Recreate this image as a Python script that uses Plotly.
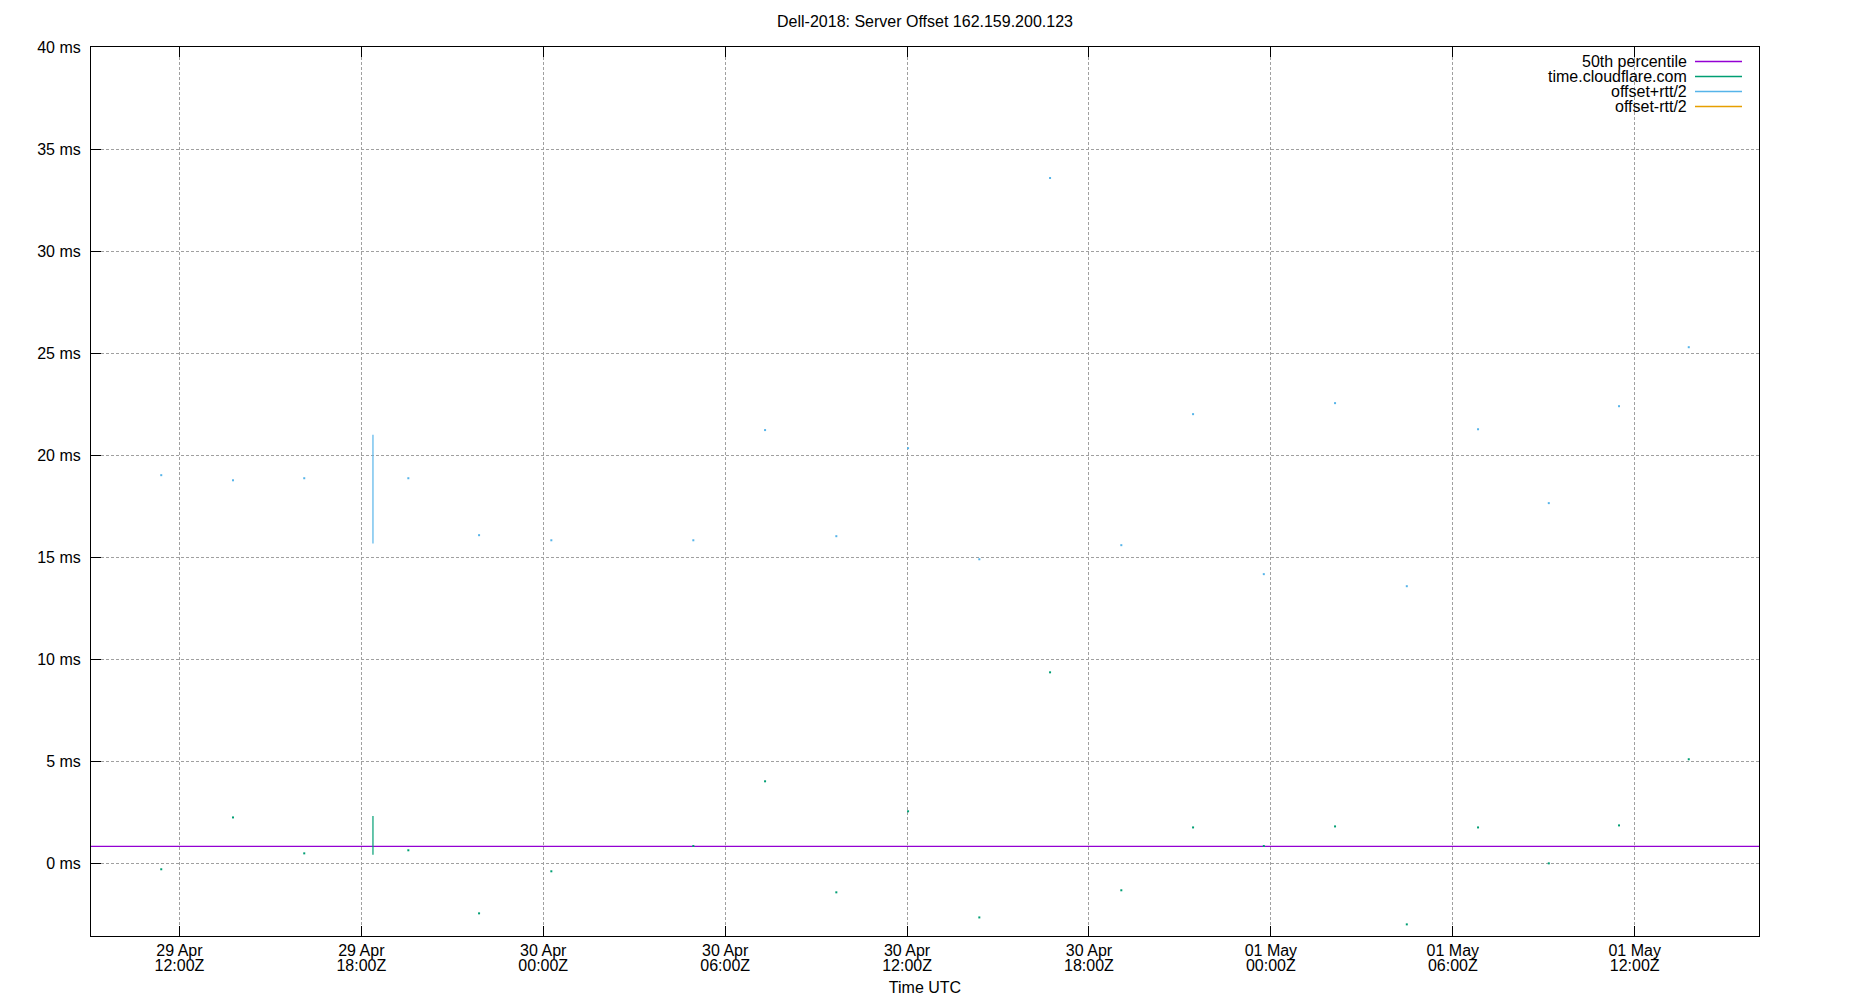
import plotly.graph_objects as go

# ---------------- data ----------------
title_text = "Dell-2018: Server Offset 162.159.200.123"
series_names = ["50th percentile", "time.cloudflare.com", "offset+rtt/2", "offset-rtt/2"]
series_colors = ["#9400d3", "#009e73", "#56b4e9", "#e69f00"]

window_start = "2024-04-29 09:05"
window_end = "2024-05-01 16:06"

p50_offset_ms = 0.83

# time.cloudflare.com offset samples
offset_times = [
    "2024-04-29 11:24", "2024-04-29 13:46", "2024-04-29 16:07", "2024-04-29 19:33",
    "2024-04-29 21:53", "2024-04-30 00:16", "2024-04-30 04:57", "2024-04-30 07:19",
    "2024-04-30 09:40", "2024-04-30 12:02", "2024-04-30 14:23", "2024-04-30 16:43",
    "2024-04-30 19:04", "2024-04-30 21:26", "2024-04-30 23:46", "2024-05-01 02:07",
    "2024-05-01 04:29", "2024-05-01 06:50", "2024-05-01 09:10", "2024-05-01 11:29",
    "2024-05-01 13:47",
]
offset_ms = [
    -0.29, 2.25, 0.49, 0.64,
    -2.45, -0.39, 0.85, 4.02,
    -1.42, 2.55, -2.65, 9.36,
    -1.32, 1.76, 0.85, 1.81,
    -2.99, 1.76, 0.00, 1.86,
    5.10,
]

# offset + rtt/2 samples
plus_times = [
    "2024-04-29 11:24", "2024-04-29 13:46", "2024-04-29 16:07", "2024-04-29 19:33",
    "2024-04-29 21:53", "2024-04-30 00:16", "2024-04-30 04:57", "2024-04-30 07:19",
    "2024-04-30 09:40", "2024-04-30 12:02", "2024-04-30 14:23", "2024-04-30 16:43",
    "2024-04-30 19:04", "2024-04-30 21:26", "2024-04-30 23:46", "2024-05-01 02:07",
    "2024-05-01 04:29", "2024-05-01 06:50", "2024-05-01 09:10", "2024-05-01 11:29",
    "2024-05-01 13:47",
]
plus_ms = [
    19.02, 18.77, 18.87, 18.87,
    16.08, 15.83, 15.83, 21.23,
    16.03, 20.34, 14.90, 33.58,
    15.59, 22.01, 14.17, 22.55,
    13.58, 21.27, 17.65, 22.40,
    25.29,
]

# offset - rtt/2 samples (none fall inside the plotted range)
minus_times = []
minus_ms = []

# burst of samples around 29 Apr 18:23 (drawn as a vertical streak)
burst_time = "2024-04-29 18:23"
burst_offset_range = [0.42, 2.32]
burst_plus_range = [15.67, 21.00]

# axis ticks
y_ticks = [0, 5, 10, 15, 20, 25, 30, 35, 40]
y_tick_labels = ["0 ms", "5 ms", "10 ms", "15 ms", "20 ms", "25 ms", "30 ms", "35 ms", "40 ms"]
y_range = [-3.56, 40]
x_ticks = [
    "2024-04-29 12:00", "2024-04-29 18:00", "2024-04-30 00:00", "2024-04-30 06:00",
    "2024-04-30 12:00", "2024-04-30 18:00", "2024-05-01 00:00", "2024-05-01 06:00",
    "2024-05-01 12:00",
]
x_tick_day = ["29 Apr", "29 Apr", "30 Apr", "30 Apr", "30 Apr", "30 Apr", "01 May", "01 May", "01 May"]
x_tick_hour = ["12:00Z", "18:00Z", "00:00Z", "06:00Z", "12:00Z", "18:00Z", "00:00Z", "06:00Z", "12:00Z"]
x_title = "Time UTC"

# ---------------- figure ----------------
FONT = "Liberation Sans, Arial, sans-serif"
W, H = 1850, 1000
ML, MR, MT, MB = 91, 91, 47, 64
PW, PH = W - ML - MR, H - MT - MB

fig = go.Figure()

# 50th percentile line
fig.add_trace(go.Scatter(
    x=[window_start, window_end], y=[p50_offset_ms, p50_offset_ms],
    mode="lines", line=dict(color=series_colors[0], width=1.3),
    name=series_names[0], showlegend=False, hoverinfo="skip"))

# offset samples
fig.add_trace(go.Scatter(
    x=offset_times, y=offset_ms, mode="markers",
    marker=dict(symbol="square", size=2, color=series_colors[1], line=dict(width=0)),
    name=series_names[1], showlegend=False))
fig.add_trace(go.Scatter(
    x=[burst_time, burst_time], y=burst_offset_range, mode="lines",
    line=dict(color=series_colors[1], width=1.2),
    name=series_names[1], showlegend=False))

# offset + rtt/2 samples
fig.add_trace(go.Scatter(
    x=plus_times, y=plus_ms, mode="markers",
    marker=dict(symbol="square", size=2, color=series_colors[2], line=dict(width=0)),
    name=series_names[2], showlegend=False))
fig.add_trace(go.Scatter(
    x=[burst_time, burst_time], y=burst_plus_range, mode="lines",
    line=dict(color=series_colors[2], width=1.2),
    name=series_names[2], showlegend=False))

# offset - rtt/2 samples
fig.add_trace(go.Scatter(
    x=minus_times, y=minus_ms, mode="markers",
    marker=dict(symbol="square", size=2, color=series_colors[3], line=dict(width=0)),
    name=series_names[3], showlegend=False))

# invisible anchor trace so the second (hour-label) x axis is rendered
fig.add_trace(go.Scatter(
    x=[window_start], y=[p50_offset_ms], xaxis="x2", mode="markers",
    marker=dict(opacity=0, size=1), showlegend=False, hoverinfo="skip"))

# custom legend (text right-aligned, sample line on the right, like gnuplot)
legend_text_right_px = 1689
legend_line_px = (1695, 1742)
legend_row0_px = 61.5
legend_row_step = 15
annotations = []
shapes = []
for i, (nm, col) in enumerate(zip(series_names, series_colors)):
    ypx = legend_row0_px + legend_row_step * i
    yp = (H - MB - ypx) / PH
    annotations.append(dict(
        text=nm, xref="paper", yref="paper",
        x=(legend_text_right_px - ML) / PW, y=yp,
        xanchor="right", yanchor="middle", showarrow=False,
        font=dict(family=FONT, size=16, color="black")))
    shapes.append(dict(
        type="line", xref="paper", yref="paper",
        x0=(legend_line_px[0] - ML) / PW, x1=(legend_line_px[1] - ML) / PW,
        y0=yp, y1=yp, line=dict(color=col, width=1.3)))

grid = dict(showgrid=True, gridcolor="#a0a0a0", gridwidth=1, griddash="3px,2px")

fig.update_layout(
    width=W, height=H,
    margin=dict(l=ML, r=MR, t=MT, b=MB, pad=0, autoexpand=False),
    paper_bgcolor="white", plot_bgcolor="white",
    font=dict(family=FONT, size=16, color="black"),
    showlegend=False,
    title=dict(text=title_text, x=0.5, xanchor="center", xref="container",
               y=1 - 21 / H, yanchor="middle", yref="container",
               font=dict(family=FONT, size=16, color="black")),
    annotations=annotations,
    shapes=shapes,
    xaxis=dict(
        type="date", range=[window_start, window_end], automargin=False,
        tickmode="array", tickvals=x_ticks, ticktext=x_tick_day,
        ticks="inside", ticklen=10, tickwidth=1, tickcolor="black",
        showline=True, linecolor="black", linewidth=1, mirror="ticks",
        zeroline=False, ticklabelstandoff=0,
        tickfont=dict(family=FONT, size=16, color="black"),
        **grid),
    xaxis2=dict(
        type="date", range=[window_start, window_end], overlaying="x",
        anchor="y", side="bottom", automargin=False,
        tickmode="array", tickvals=x_ticks, ticktext=x_tick_hour,
        ticks="", showline=False, showgrid=False, zeroline=False,
        ticklabelstandoff=18,
        tickfont=dict(family=FONT, size=16, color="black"),
        title=dict(text=x_title, standoff=8, font=dict(family=FONT, size=16, color="black"))),
    yaxis=dict(
        range=y_range, tickmode="array", tickvals=y_ticks, ticktext=y_tick_labels,
        ticks="inside", ticklen=10, tickwidth=1, tickcolor="black",
        showline=True, linecolor="black", linewidth=1, mirror=True,
        zeroline=False, ticklabelstandoff=6, automargin=False,
        tickfont=dict(family=FONT, size=16, color="black"),
        **grid),
)

fig.write_html("out.html", config={"displayModeBar": False},
               post_script="document.body.style.margin='0';")
